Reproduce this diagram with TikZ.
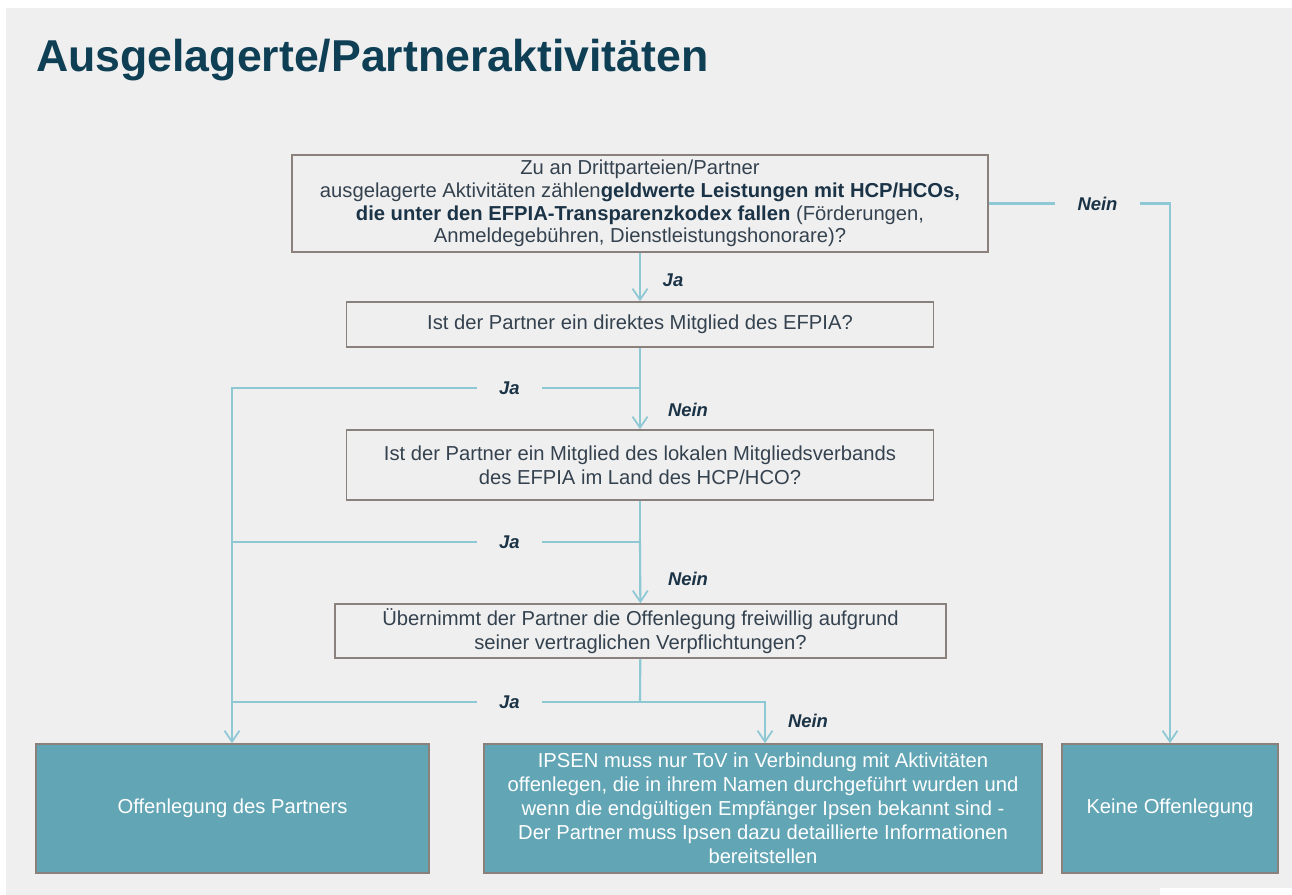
\documentclass[tikz,border=0pt]{standalone}
\usepackage{fontspec}
\setmainfont{Liberation Sans}
\usetikzlibrary{arrows.meta}
\definecolor{bggrey}{HTML}{EFEFEF}
\definecolor{titleblue}{HTML}{0E3F55}
\definecolor{txtgrey}{HTML}{34424F}
\definecolor{boldblue}{HTML}{1B3346}
\definecolor{lineblue}{HTML}{8EC8D5}
\definecolor{boxedge}{HTML}{8A817C}
\definecolor{teal}{HTML}{62A5B5}
\tikzset{
  question/.style={draw=boxedge, line width=0.9pt, inner sep=0pt, align=center,
    text=txtgrey, font=\fontsize{11.5}{13.5}\selectfont},
  outcome/.style={draw=boxedge, fill=teal, line width=0.9pt, inner sep=0pt,
    align=center, text=white, minimum height=2.58cm,
    font=\fontsize{11.5}{13.6}\selectfont},
  flow/.style={draw=lineblue, line width=1.2pt},
  arr/.style={flow, -{Straight Barb[length=2.2mm,width=3mm,line width=1pt]}},
  lbl/.style={text=boldblue, font=\fontsize{10.5}{12}\selectfont\bfseries\itshape},
  gaplbl/.style={lbl, fill=bggrey, inner xsep=0.45cm}
}
\begin{document}
\begin{tikzpicture}[x=0.02cm, y=-0.02cm]
    \useasboundingbox (0,0) rectangle (1292,895);
    \fill[white] (0,0) rectangle (1292,895);
    \fill[bggrey] (6,8) rectangle (1292,895);
    \fill[white] (1160,888) rectangle (1292,895);
    \node[anchor=west, text=titleblue, font=\fontsize{25.4}{30}\selectfont\bfseries]
      (title) at (30,60) {Ausgelagerte/Partneraktivitäten};

    % Fragen
    \node[question, minimum width=13.92cm, minimum height=1.94cm, font=\fontsize{11.5}{13}\selectfont]
      (q1) at (640,203.5) {Zu an Drittparteien/Partner\\
      ausgelagerte Aktivitäten zählen\textcolor{boldblue}{\textbf{geldwerte Leistungen mit HCP/HCOs,}}\\
      \textcolor{boldblue}{\textbf{die unter den EFPIA-Transparenzkodex fallen}} (Förderungen,\\
      Anmeldegebühren, Dienstleistungshonorare)?};
    \node[question, minimum width=11.74cm, minimum height=0.9cm] (q2) at (640,324.5)
      {Ist der Partner ein direktes Mitglied des EFPIA?};
    \node[question, minimum width=11.74cm, minimum height=1.4cm] (q3) at (640,465)
      {Ist der Partner ein Mitglied des lokalen Mitgliedsverbands\\des EFPIA im Land des HCP/HCO?};
    \node[question, minimum width=12.22cm, minimum height=1.08cm] (q4) at (640.5,631)
      {Übernimmt der Partner die Offenlegung freiwillig aufgrund\\seiner vertraglichen Verpflichtungen?};

    % Ergebnisse
    \node[outcome, minimum width=7.86cm] (o1) at (232.5,808.5) {Offenlegung des Partners};
    \node[outcome, minimum width=11.16cm] (o2) at (763,808.5)
      {IPSEN muss nur ToV in Verbindung mit Aktivitäten\\
      offenlegen, die in ihrem Namen  durchgeführt wurden und\\
      wenn die endgültigen Empfänger  Ipsen bekannt sind -\\
      Der Partner muss  Ipsen dazu detaillierte  Informationen\\
      bereitstellen};
    \node[outcome, minimum width=4.32cm] (o3) at (1170,808.5) {Keine Offenlegung};

    % Knoten der Linien
    \coordinate (j1) at (640,388);
    \coordinate (j2) at (640,542);
    \coordinate (j3) at (640,702);
    \coordinate (l1) at (232,388);
    \coordinate (l3) at (232,702);
    \coordinate (r3) at (765,702);

    \draw[arr] (q1) -- (q2);
    \draw[arr] (q1.east) -- node[gaplbl, pos=0.6] {Nein} (q1.east -| o3.north) -- (o3.north);
    \draw[flow] (q2) -- (j1);
    \draw[arr] (j1) -- (q3);
    \draw[arr] (j1) -- node[gaplbl, pos=0.32] {Ja} (l1) -- (o1.north -| l1);
    \draw[flow] (q3) -- (j2);
    \draw[arr] (j2) -- (q4);
    \draw[flow] (j2) -- node[gaplbl, pos=0.32] {Ja} (j2 -| l1);
    \draw[flow] (q4) -- (j3);
    \draw[flow] (j3) -- node[gaplbl, pos=0.32] {Ja} (l3);
    \draw[arr] (j3) -- (r3) -- (o2.north -| r3);

    \node[lbl] (ja1) at (673,280) {Ja};
    \node[lbl] (nein1) at (688,410) {Nein};
    \node[lbl] (nein2) at (688,579) {Nein};
    \node[lbl] (nein3) at (808,721) {Nein};
  \end{tikzpicture}
\end{document}
